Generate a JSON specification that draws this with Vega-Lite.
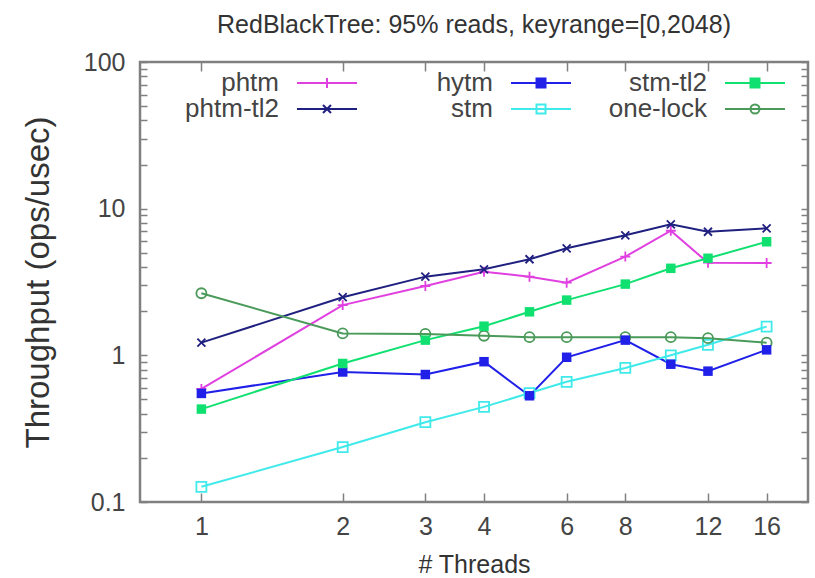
{
  "$schema": "https://vega.github.io/schema/vega-lite/v6.json",
  "width": 668,
  "height": 440,
  "autosize": {"type": "none"},
  "padding": {"left": 140, "top": 62, "right": 7, "bottom": 76},
  "background": "white",
  "config": {
    "view": {"stroke": "#808080", "strokeWidth": 2.5},
    "font": "Liberation Sans",
    "axis": {"domain": false, "grid": false, "labelFont": "Liberation Sans", "titleFont": "Liberation Sans", "labelColor": "#444", "titleColor": "#333", "tickColor": "#808080", "tickWidth": 1.5, "labelFontWeight": "normal", "titleFontWeight": "normal"}
  },
  "title": {"text": "RedBlackTree: 95% reads, keyrange=[0,2048)", "fontSize": 25, "fontWeight": "normal", "color": "#333", "font": "Liberation Sans", "offset": 12, "anchor": "middle"},
  "data": {"values": [
    {"series": "phtm", "threads": 1, "value": 0.59},
    {"series": "phtm", "threads": 2, "value": 2.2},
    {"series": "phtm", "threads": 3, "value": 2.97},
    {"series": "phtm", "threads": 4, "value": 3.72},
    {"series": "phtm", "threads": 5, "value": 3.44},
    {"series": "phtm", "threads": 6, "value": 3.13},
    {"series": "phtm", "threads": 8, "value": 4.71},
    {"series": "phtm", "threads": 10, "value": 7.07},
    {"series": "phtm", "threads": 12, "value": 4.28},
    {"series": "phtm", "threads": 16, "value": 4.26},
    {"series": "phtm-tl2", "threads": 1, "value": 1.22},
    {"series": "phtm-tl2", "threads": 2, "value": 2.49},
    {"series": "phtm-tl2", "threads": 3, "value": 3.44},
    {"series": "phtm-tl2", "threads": 4, "value": 3.86},
    {"series": "phtm-tl2", "threads": 5, "value": 4.52},
    {"series": "phtm-tl2", "threads": 6, "value": 5.37},
    {"series": "phtm-tl2", "threads": 8, "value": 6.58},
    {"series": "phtm-tl2", "threads": 10, "value": 7.82},
    {"series": "phtm-tl2", "threads": 12, "value": 6.96},
    {"series": "phtm-tl2", "threads": 16, "value": 7.35},
    {"series": "hytm", "threads": 1, "value": 0.55},
    {"series": "hytm", "threads": 2, "value": 0.77},
    {"series": "hytm", "threads": 3, "value": 0.74},
    {"series": "hytm", "threads": 4, "value": 0.905},
    {"series": "hytm", "threads": 5, "value": 0.53},
    {"series": "hytm", "threads": 6, "value": 0.97},
    {"series": "hytm", "threads": 8, "value": 1.27},
    {"series": "hytm", "threads": 10, "value": 0.87},
    {"series": "hytm", "threads": 12, "value": 0.78},
    {"series": "hytm", "threads": 16, "value": 1.09},
    {"series": "stm", "threads": 1, "value": 0.127},
    {"series": "stm", "threads": 2, "value": 0.237},
    {"series": "stm", "threads": 3, "value": 0.35},
    {"series": "stm", "threads": 4, "value": 0.445},
    {"series": "stm", "threads": 5, "value": 0.553},
    {"series": "stm", "threads": 6, "value": 0.66},
    {"series": "stm", "threads": 8, "value": 0.82},
    {"series": "stm", "threads": 10, "value": 1.0},
    {"series": "stm", "threads": 12, "value": 1.18},
    {"series": "stm", "threads": 16, "value": 1.57},
    {"series": "stm-tl2", "threads": 1, "value": 0.43},
    {"series": "stm-tl2", "threads": 2, "value": 0.88},
    {"series": "stm-tl2", "threads": 3, "value": 1.27},
    {"series": "stm-tl2", "threads": 4, "value": 1.58},
    {"series": "stm-tl2", "threads": 5, "value": 1.98},
    {"series": "stm-tl2", "threads": 6, "value": 2.38},
    {"series": "stm-tl2", "threads": 8, "value": 3.06},
    {"series": "stm-tl2", "threads": 10, "value": 3.92},
    {"series": "stm-tl2", "threads": 12, "value": 4.59},
    {"series": "stm-tl2", "threads": 16, "value": 5.95},
    {"series": "one-lock", "threads": 1, "value": 2.65},
    {"series": "one-lock", "threads": 2, "value": 1.41},
    {"series": "one-lock", "threads": 3, "value": 1.40},
    {"series": "one-lock", "threads": 4, "value": 1.36},
    {"series": "one-lock", "threads": 5, "value": 1.33},
    {"series": "one-lock", "threads": 6, "value": 1.33},
    {"series": "one-lock", "threads": 8, "value": 1.33},
    {"series": "one-lock", "threads": 10, "value": 1.33},
    {"series": "one-lock", "threads": 12, "value": 1.31},
    {"series": "one-lock", "threads": 16, "value": 1.22}
  ]},
  "layer": [
    {
      "mark": {"type": "line", "strokeWidth": 2},
      "encoding": {
        "x": {"field": "threads", "type": "quantitative",
          "scale": {"type": "log", "domain": [0.74, 19.6], "nice": false},
          "axis": {"values": [1, 2, 3, 4, 6, 8, 12, 16], "format": "d", "tickSize": -9, "labelFontSize": 25, "labelPadding": 21, "labelOverlap": false, "labelFlush": false, "title": "# Threads", "titleFontSize": 25, "titlePadding": 13}},
        "y": {"field": "value", "type": "quantitative",
          "scale": {"type": "log", "domain": [0.1, 100], "nice": false},
          "axis": {"values": [0.1, 0.2, 0.3, 0.4, 0.5, 0.6, 0.7, 0.8, 0.9, 1, 2, 3, 4, 5, 6, 7, 8, 9, 10, 20, 30, 40, 50, 60, 70, 80, 90, 100],
            "format": "~g",
            "labelExpr": "indexof([0.1, 1, 10, 100], datum.value) >= 0 ? datum.label : ''",
            "tickSize": -7,
            "labelFontSize": 25, "labelPadding": 22, "labelOverlap": false, "labelFlush": false,
            "title": "Throughput (ops/usec)", "titleFontSize": 33, "titlePadding": 28}},
        "color": {"field": "series", "type": "nominal",
          "scale": {"domain": ["phtm", "phtm-tl2", "hytm", "stm", "stm-tl2", "one-lock"],
                    "range": ["#e040e0", "#202080", "#2020e8", "#40eaea", "#10e070", "#4a9a5a"]},
          "legend": null}
      }
    },
    {
      "transform": [{"filter": "indexof(['hytm', 'stm-tl2'], datum.series) < 0"}],
      "mark": {"type": "point", "filled": false, "strokeWidth": 1.8, "size": 100, "opacity": 1},
      "encoding": {
        "x": {"field": "threads", "type": "quantitative", "axis": null},
        "y": {"field": "value", "type": "quantitative", "axis": null},
        "color": {"field": "series", "type": "nominal", "legend": null},
        "shape": {"field": "series", "type": "nominal",
          "scale": {"domain": ["phtm", "phtm-tl2", "stm", "one-lock"],
                    "range": ["M-1,0H1M0,-1V1", "M-0.8,-0.8L0.8,0.8M-0.8,0.8L0.8,-0.8", "square", "circle"]},
          "legend": null}
      }
    },
    {
      "transform": [{"filter": "indexof(['hytm', 'stm-tl2'], datum.series) >= 0"}],
      "mark": {"type": "point", "filled": true, "shape": "square", "size": 90, "opacity": 1},
      "encoding": {
        "x": {"field": "threads", "type": "quantitative", "axis": null},
        "y": {"field": "value", "type": "quantitative", "axis": null},
        "color": {"field": "series", "type": "nominal", "legend": null}
      }
    },
    {
      "transform": [{"filter": "false"}],
      "mark": {"type": "point", "filled": true, "size": 400, "opacity": 1},
      "encoding": {
        "x": {"field": "threads", "type": "quantitative",
          "axis": {"orient": "top", "values": [1, 2, 3, 4, 6, 8, 12, 16], "labels": false, "title": null, "tickSize": -9}},
        "y": {"field": "value", "type": "quantitative",
          "axis": {"orient": "right", "values": [0.1, 0.2, 0.3, 0.4, 0.5, 0.6, 0.7, 0.8, 0.9, 1, 2, 3, 4, 5, 6, 7, 8, 9, 10, 20, 30, 40, 50, 60, 70, 80, 90, 100],
            "labels": false, "title": null, "tickSize": -7}},
        "shape": {"field": "series", "type": "nominal",
          "scale": {"domain": ["phtm", "phtm-tl2", "hytm", "stm", "stm-tl2", "one-lock"],
                    "range": ["M-15,0L-15,0M-3,0H3M0,-0.5V0.5",
                              "M-15,0L-15,0M-3,0H3M-0.4,-0.4L0.4,0.4M-0.4,0.4L0.4,-0.4",
                              "M-15,0L-15,0M-3,0H3M-0.45,-0.45H0.45V0.45H-0.45Z",
                              "M-15,0L-15,0M-3,0H3M-0.45,-0.45H0.45V0.45H-0.45Z",
                              "M-15,0L-15,0M-3,0H3M-0.45,-0.45H0.45V0.45H-0.45Z",
                              "M-15,0L-15,0M-3,0H3M0.45,0A0.45,0.45 0 1,1 -0.45,0A0.45,0.45 0 1,1 0.45,0Z"]},
          "legend": {"orient": "none", "legendX": 174, "legendY": 8, "columns": 3, "title": null, "padding": 0,
            "labelFontSize": 26, "labelFont": "Liberation Sans", "labelColor": "#444", "labelAlign": "right", "labelOffset": -61, "labelLimit": 300,
            "symbolSize": 400, "symbolStrokeWidth": 2, "symbolOpacity": 1, "rowPadding": 0, "columnPadding": 26,
            "encoding": {"symbols": {
              "stroke": {"value": {"expr": "scale('color', datum.value)"}},
              "fill": {"value": {"expr": "indexof(['hytm', 'stm-tl2'], datum.value) >= 0 ? scale('color', datum.value) : 'transparent'"}},
              "strokeWidth": {"value": 2},
              "opacity": {"value": 1}
            }}}}
      }
    }
  ],
  "resolve": {"scale": {"shape": "independent"}, "axis": {"x": "independent", "y": "independent"}}
}
